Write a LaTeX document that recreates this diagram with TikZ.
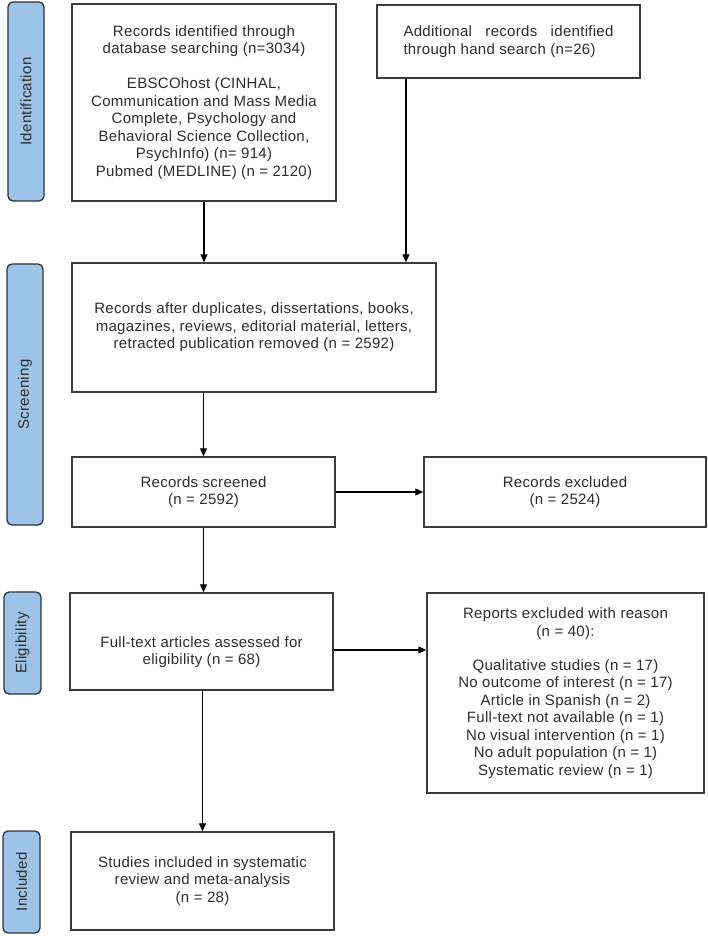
\documentclass[tikz,border=0pt]{standalone}
\usepackage{fontspec}
\setmainfont{Liberation Sans}[LetterSpace=2]
\usetikzlibrary{arrows.meta}
\definecolor{txt}{RGB}{45,45,45}
\definecolor{bord}{RGB}{60,60,60}
\definecolor{lblfill}{RGB}{157,195,230}
\definecolor{lbldraw}{RGB}{40,52,66}
\begin{document}
\begin{tikzpicture}[x=1pt,y=-1pt,
  box/.style={draw=bord, line width=1.4pt, fill=white, align=center, text=txt, inner sep=0pt,
    font=\fontsize{15}{17.5}\selectfont},
  boxtext/.style={align=center, text=txt, inner sep=0pt, font=\fontsize{15}{17.5}\selectfont},
  phase/.style={draw=lbldraw, line width=1.3pt, fill=lblfill, rounded corners=5pt, inner sep=0pt,
    text=txt, font=\fontsize{15}{17.5}\selectfont, rotate=90},
  arr/.style={line width=1.2pt, draw=black, -{Triangle[length=8pt,width=7pt]}}]
\useasboundingbox (0,0) rectangle (708,936);
\fill[white] (0,0) rectangle (708,936);

% phase labels
\node[phase, minimum width=199pt, minimum height=36pt] (pid) at (26,101.5) {Identification};
\node[phase, minimum width=261pt, minimum height=36pt] (psc) at (25,394.5) {Screening};
\node[phase, minimum width=102pt, minimum height=37pt] (pel) at (22.5,643) {Eligibility};
\node[phase, minimum width=102pt, minimum height=37pt] (pin) at (21.5,882) {Included};

% boxes
\node[box, minimum width=264pt, minimum height=197pt] (b1) at (204,102.5)
  {Records identified through\\ database searching (n=3034)\\[17.5pt]
   EBSCOhost (CINHAL,\\ Communication and Mass Media\\ Complete, Psychology and\\
   Behavioral Science Collection,\\ PsychInfo) (n= 914)\\ Pubmed (MEDLINE) (n = 2120)};
\node[box, minimum width=263pt, minimum height=73pt] (b2) at (508.5,41.5)
  {\parbox{210pt}{\makebox[210pt][s]{Additional records identified}\\ through hand search (n=26)}};
\node[box, minimum width=364pt, minimum height=129pt] (b3) at (254,327.5)
  {Records after duplicates, dissertations, books,\\ magazines, reviews, editorial material, letters,\\
   retracted publication removed (n = 2592)};
\node[box, minimum width=263pt, minimum height=70pt] (b4) at (203.5,492)
  {Records screened\\ (n = 2592)};
\node[box, minimum width=282pt, minimum height=70pt] (b5) at (565,492)
  {Records excluded\\ (n = 2524)};
\node[box, minimum width=263pt, minimum height=97pt] (b6) at (201.5,641.5) {};
\node[boxtext] (t6) at (201.5,652) {Full-text articles assessed for\\ eligibility (n = 68)};
\node[box, minimum width=277pt, minimum height=200pt] (b7) at (565.5,693)
  {Reports excluded with reason\\ (n = 40):\\[16.5pt]
   Qualitative studies (n = 17)\\ No outcome of interest (n = 17)\\ Article in Spanish (n = 2)\\
   Full-text not available (n = 1)\\ No visual intervention (n = 1)\\ No adult population (n = 1)\\
   Systematic review (n = 1)};
\node[box, minimum width=263pt, minimum height=98pt] (b8) at (202.5,881)
  {Studies included in systematic\\ review and meta-analysis\\ (n = 28)};

% connectors
\coordinate (c2) at ([xshift=-102.5pt]b2.south);
\draw[arr] (b1.south) -- (b1.south |- b3.north);
\draw[arr] (c2) -- (c2 |- b3.north);
\draw[arr] (b4.north |- b3.south) -- (b4.north);
\draw[arr] (b4.east) -- (b5.west);
\draw[arr] (b4.south) -- (b4.south |- b6.north);
\draw[arr] ([yshift=-8.5pt]b6.east) -- ([yshift=-8.5pt]b6.east -| b7.west);
\draw[arr] (b8.north |- b6.south) -- (b8.north);
\end{tikzpicture}
\end{document}
